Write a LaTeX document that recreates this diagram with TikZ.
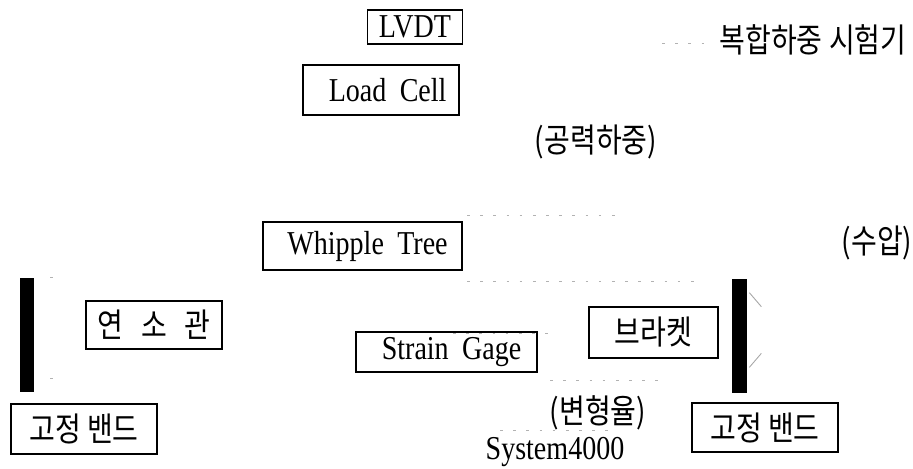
\documentclass[tikz,border=0pt]{standalone}
\usepackage{fontspec}
\setmainfont{Liberation Serif}[FakeStretch=0.84, WordSpace=1.9]
\newfontfamily\hangul{Noto Sans CJK KR}[FakeStretch=0.84]

\begin{document}
\begin{tikzpicture}[x=0.02cm, y=-0.02cm,
          box/.style={draw, line width=0.6pt, inner sep=0pt,
                      font=\fontsize{19}{22}\selectfont},
          kbox/.style={box, font=\hangul\fontsize{19}{22}\selectfont},
          lbl/.style={inner sep=0pt, font=\hangul\fontsize{19}{22}\selectfont},
          band/.style={fill=black, draw=none, inner sep=0pt},
          faint/.style={black!30, line width=0.5pt, dash pattern=on 1.5pt off 6pt}
        ]
        \useasboundingbox (0,0) rectangle (913,468);

        % sensors and loading parts
        \node[box, minimum width=1.9cm, minimum height=0.68cm]  (lvdt)  at (415,27)    {LVDT};
        \node[box, minimum width=3.12cm, minimum height=1.0cm]  (cell)  at (381,90)    {\hspace{0.4em}Load Cell};
        \node[box, minimum width=3.98cm, minimum height=0.96cm] (tree)  at (362.5,246) {\hspace{0.3em}Whipple Tree};
        \node[box, minimum width=3.62cm, minimum height=0.8cm]  (gage)  at (446.5,352) {\hspace{0.3em}Strain Gage};

        \node[kbox, minimum width=2.72cm, minimum height=0.96cm] (case)   at (154,325)   {연\hspace{0.35em} 소\hspace{0.35em} 관};
        \node[kbox, minimum width=2.58cm, minimum height=1.02cm] (brkt)   at (653.5,332.5) {브라켓};
        \node[kbox, minimum width=2.92cm, minimum height=1.0cm]  (bandL)  at (84,429)    {고정 밴드\hspace{0.3em}};
        \node[kbox, minimum width=2.92cm, minimum height=0.98cm] (bandR)  at (765,427.5) {고정 밴드};

        % fixing bands
        \node[band, minimum width=0.28cm, minimum height=2.28cm] (barL) at (27,335) {};
        \node[band, minimum width=0.30cm, minimum height=2.28cm] (barR) at (739.5,336) {};

        % free labels
        \node[lbl] (rig)    at (813,40)  {복합하중 시험기};
        \node[lbl] (aero)   at (596,142) {(공력하중)};
        \node[lbl] (water)  at (877,243) {(수압)};
        \node[lbl] (strain) at (598,413) {(변형율)};
        \node[inner sep=0pt, font=\fontsize{19}{22}\selectfont] (sys) at (555,452) {System4000};

        % faded leader lines
        \draw[faint] (662,43) -- (704,43);
        \draw[faint] (467,215) -- (615,215);
        \draw[faint] (467,281) -- (697,281);
        \draw[faint] (453,333) -- (550,333);
        \draw[faint] (550,380) -- (660,380);
        \draw[faint] (500,430) -- (613,430);
        \draw[faint] (barL.north east) ++(16,0) -- ++(8,0);
        \draw[faint] (barL.south east) ++(16,-14) -- ++(8,0);
        \draw[black!35, line width=0.5pt] (barR.north east) ++(2,14) -- ++(12,14);
        \draw[black!35, line width=0.5pt] (barR.south east) ++(2,-26) -- ++(12,-14);
\end{tikzpicture}
\end{document}
